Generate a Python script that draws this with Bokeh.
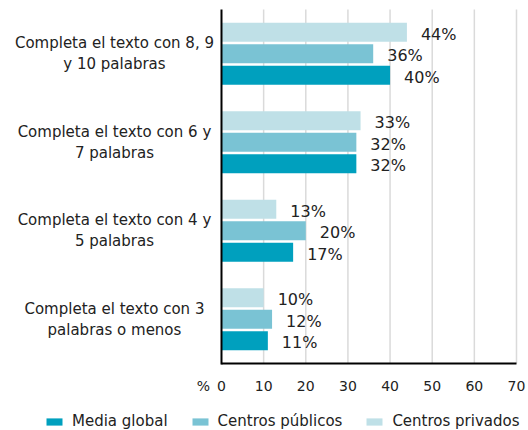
from bokeh.plotting import figure
from bokeh.models import ColumnDataSource, Range1d, Legend, LegendItem
from bokeh.embed import file_html
from bokeh.resources import INLINE
from bokeh.core.properties import value

categories = [
    "Completa el texto con 8, 9\ny 10 palabras",
    "Completa el texto con 6 y\n7 palabras",
    "Completa el texto con 4 y\n5 palabras",
    "Completa el texto con 3\npalabras o menos",
]
series_names = ["Media global", "Centros públicos", "Centros privados"]
media_global = [40, 32, 17, 11]
centros_publicos = [36, 32, 20, 12]
centros_privados = [44, 33, 13, 10]
x_ticks = [0, 10, 20, 30, 40, 50, 60, 70]
unit_label = "%"

colors = ["#00A0BE", "#7AC3D4", "#BFE0E7"]
offsets = [-0.242, 0.0, 0.242]
bar_h = 0.214
FONT = "DejaVu Sans"
TXT = "#222222"

# data window covering the whole canvas (plot area: x 0..70, y 0..4)
X_MIN, X_MAX = -52.44, 72.85
Y_MIN, Y_MAX = -0.757, 4.1017
LABEL_X = -25.4     # centre of the category labels
UNIT_X = -4.27      # centre of the "%" unit label
TICK_Y = -0.254     # centre of the x tick labels

p = figure(width=528, height=430, output_backend="svg", toolbar_location=None,
           x_range=Range1d(X_MIN, X_MAX), y_range=Range1d(Y_MIN, Y_MAX),
           min_border=0)
p.outline_line_color = None
p.background_fill_color = "white"
p.xaxis.visible = False
p.yaxis.visible = False
p.xgrid.grid_line_color = None
p.ygrid.grid_line_color = None

n = len(categories)
centers = [n - 0.5 - i for i in range(n)]

# vertical grid lines over the plotting area
p.segment(x0=x_ticks[1:], x1=x_ticks[1:], y0=[0] * (len(x_ticks) - 1),
          y1=[n] * (len(x_ticks) - 1), line_color="#DADADA", line_width=1.5)

renderers = []
for vals, col, off in zip([media_global, centros_publicos, centros_privados], colors, offsets):
    src = ColumnDataSource(dict(
        y=[c + off for c in centers],
        v=vals,
        lab=[f"{v}%" for v in vals],
    ))
    r = p.hbar(y="y", right="v", left=0, height=bar_h, source=src, fill_color=col, line_color=None)
    renderers.append(r)
    p.text(x="v", y="y", text="lab", source=src, x_offset=14, y_offset=2,
           text_align="left", text_baseline="middle",
           text_font=value(FONT), text_font_size="16px", text_color=TXT)

# axis lines
p.segment(x0=[0, 0], x1=[0, x_ticks[-1]], y0=[-0.012, 0], y1=[n, 0],
          line_color="black", line_width=2)

# x tick labels and unit label
p.text(x=x_ticks, y=[TICK_Y] * len(x_ticks), text=[str(t) for t in x_ticks],
       text_align="center", text_baseline="middle",
       text_font=value(FONT), text_font_size="14px", text_color=TXT)
p.text(x=[UNIT_X], y=[TICK_Y], text=[unit_label],
       text_align="center", text_baseline="middle",
       text_font=value(FONT), text_font_size="14px", text_color=TXT)

# category labels
p.text(x=[LABEL_X] * n, y=centers, text=categories,
       text_align="center", text_baseline="middle", text_line_height=1.15,
       text_font=value(FONT), text_font_size="15px", text_color=TXT)

legend = Legend(items=[LegendItem(label=s, renderers=[r]) for s, r in zip(series_names, renderers)],
                orientation="horizontal", location=(44, 0),
                glyph_width=20, glyph_height=9, label_standoff=8, spacing=22, label_height=18,
                padding=0, margin=0, border_line_color=None, background_fill_alpha=0,
                label_text_font=FONT, label_text_font_size="15px", label_text_color=TXT)
p.add_layout(legend, "center")

open("out.html", "w").write(file_html(p, INLINE))
